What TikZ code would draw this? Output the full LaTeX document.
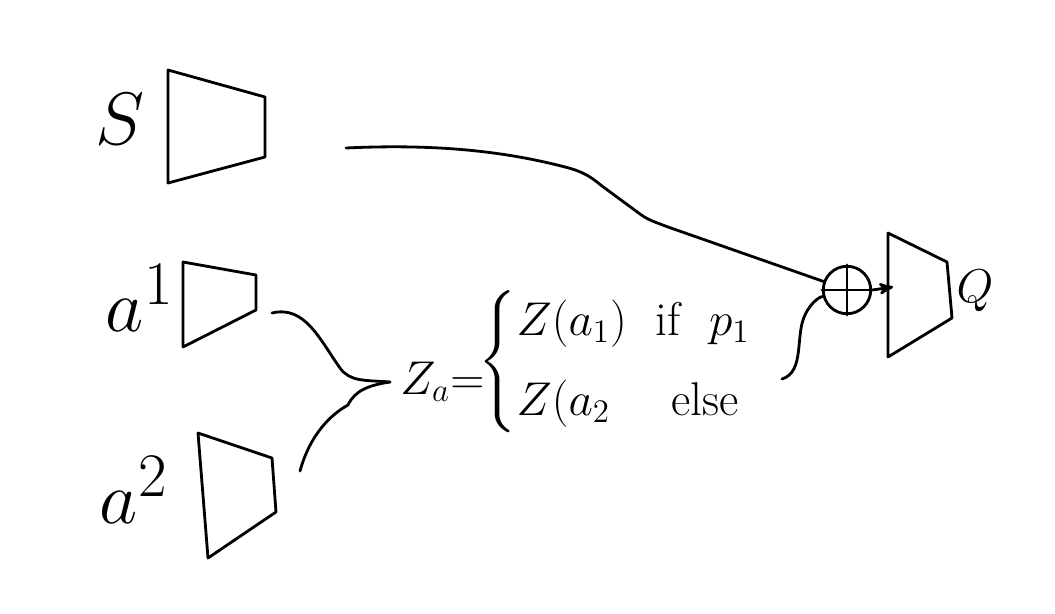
\documentclass[tikz,border=0pt]{standalone}
\usepackage{amsmath}
\usepackage{tikz}
\usetikzlibrary{shapes}
\usetikzlibrary{arrows}

\begin{document}
\begin{tikzpicture}[x=0.02cm, y=-0.02cm]

      \tikzset{net/.style = {draw, line width=1.6pt, line join=round}}
      \tikzset{wire/.style = {line width=1.6pt, line cap=round, line join=round}}
      \tikzset{edge/.style = {->,> = stealth', line width=1.6pt}}
      \tikzset{sum/.style = {draw, circle, minimum size=0.95cm, inner sep=0pt, line width=1.6pt}}
      \tikzset{lbl/.style = {font=\Huge, scale=1.7}}
      \tikzset{eq/.style = {font=\huge, scale=1.3, inner sep=0pt}}
      \useasboundingbox (0,0) rectangle (1055,613);
      % networks
      \draw[net] (168,70) -- (265,97) -- (265,157) -- (168,183) -- cycle;
      \draw[net] (183,262) -- (256,275) -- (256,310) -- (183,347) -- cycle;
      \draw[net] (198,433) -- (272,458) -- (276,512) -- (208,558) -- cycle;
      \draw[net] (888,233) -- (947,262) -- (952,318) -- (888,357) -- cycle;
      % labels
      \node[lbl] (s) at (120,119) {$S$};
      \node[lbl] (a1) at (140,298) {$a^1$};
      \node[lbl] (a2) at (134,490) {$a^2$};
      \node[eq] (q) at (975,291) {$Q$};
      \node[eq, anchor=west] (za) at (400,382) {$Z_a{=}$};
      \node[eq, anchor=west] (za cases) at (478,362)
            {$\begin{cases} Z(a_1)\ \ \text{if}\ \ p_1\\[5pt] Z(a_2\hspace{1.3em}\text{else}\end{cases}$};
      \node[sum] (sum) at (847,290) {};
      \coordinate (s tail) at (346,148);
      \coordinate (a1 tail) at (272,313);
      \coordinate (a2 tail) at (300,471);
      \coordinate (join) at (390,382);
      \coordinate (else tail) at (782,379);
      \coordinate (q in) at (893,287);
      %edges
      \draw[wire] (sum.north) -- (sum.south);
      \draw[wire] (sum.west) -- (sum.east);
      \draw[wire] (s tail) .. controls (430,144) and (500,150) .. (565,167)
                  .. controls (585,172) and (592,178) .. (602,186) -- (640,214)
                  .. controls (648,220) and (655,222) .. (668,227) -- (sum.160);
      \draw[wire] (a1 tail) .. controls (305,305) and (320,340) .. (340,368)
                  .. controls (350,382) and (365,380) .. (join);
      \draw[wire] (a2 tail) .. controls (310,435) and (330,415) .. (348,405)
                  .. controls (355,390) and (370,385) .. (join);
      \draw[wire] (else tail) .. controls (805,372) and (795,335) .. (805,315)
                  .. controls (812,300) and (822,296) .. (sum.195);
      \draw[edge] (sum.east) -- (q in);

\end{tikzpicture}
\end{document}
